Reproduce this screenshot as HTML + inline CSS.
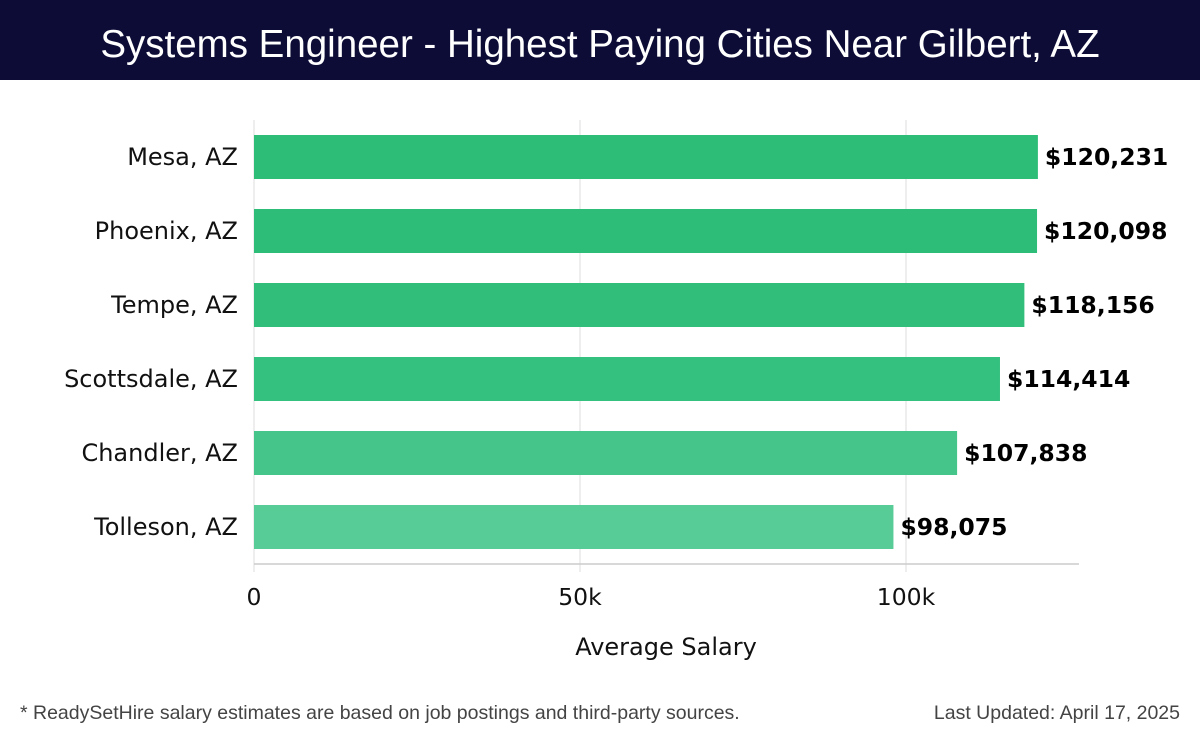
<!DOCTYPE html>
<html><head><meta charset="utf-8"><style>
body{margin:0;width:1200px;height:740px;background:#fff;font-family:"Liberation Sans","DejaVu Sans",sans-serif;overflow:hidden;position:relative}
#hdr{position:absolute;left:0;top:0;width:1200px;height:80px;background:#0c0c36;color:#fff;font-size:38.5px;text-align:center;line-height:90px}
.foot{position:absolute;top:702px;font-size:19.5px;color:#444}
</style></head><body>
<div id="hdr">Systems Engineer - Highest Paying Cities Near Gilbert, AZ</div>
<svg id="chart" width="1200" height="740" style="position:absolute;left:0;top:0;font-family:'DejaVu Sans',sans-serif"></svg>
<div class="foot" style="left:20px">* ReadySetHire salary estimates are based on job postings and third-party sources.</div>
<div class="foot" style="right:20px">Last Updated: April 17, 2025</div>
<script>
const categories=["Mesa, AZ","Phoenix, AZ","Tempe, AZ","Scottsdale, AZ","Chandler, AZ","Tolleson, AZ"];
const salaries=[120231,120098,118156,114414,107838,98075];
const tickValues=[0,50000,100000];
const tickLabels=["0","50k","100k"];
const barColors=["#2dbd77","#2ebd78","#30be7a","#34c07e","#45c58a","#58cc97"];
const NS="http://www.w3.org/2000/svg";
const svg=document.getElementById('chart');
const x0=254,pxPer=326/50000,plotTop=120,axisY=564,plotRight=1079;
const xs=v=>x0+v*pxPer;
const yc=i=>157+i*74;
function mk(t,a){const e=document.createElementNS(NS,t);for(const k in a)e.setAttribute(k,a[k]);svg.appendChild(e);return e;}
tickValues.forEach((v,i)=>{
 const g=mk('line',{x1:xs(v),x2:xs(v),y1:plotTop,y2:572,stroke:'#dddddd','stroke-width':1});
 
 
 const t=mk('text',{x:xs(v),y:605,'text-anchor':'middle','font-size':23.5,fill:'#111'});
 t.textContent=tickLabels[i];
 
 
});
const ax=mk('line',{x1:x0,x2:plotRight,y1:axisY,y2:axisY,stroke:'#cccccc','stroke-width':1.5});


categories.forEach((c,i)=>{
 const b=mk('rect',{x:x0,y:yc(i)-22,width:xs(salaries[i])-x0,height:44,fill:barColors[i]});
 
 
 const l=mk('text',{x:238,y:yc(i)+8,'text-anchor':'end','font-size':24,fill:'#111'});
 l.textContent=c;
 
 
 const v=mk('text',{x:xs(salaries[i])+7,y:yc(i)+8,'font-size':23.5,'font-weight':'bold',fill:'#000'});
 v.textContent='$'+salaries[i].toLocaleString('en-US');
 
 
});
const at=mk('text',{x:666,y:655,'text-anchor':'middle','font-size':24,fill:'#111'});
at.textContent='Average Salary';


</script>
</body></html>
